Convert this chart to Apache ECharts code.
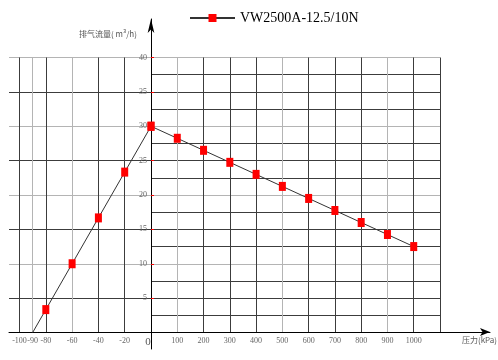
<!DOCTYPE html>
<html><head><meta charset="utf-8">
<script src="https://cdn.jsdelivr.net/npm/echarts@6/dist/echarts.min.js"></script>
<style>html,body{margin:0;padding:0;background:#fff}#c{width:498px;height:360px}</style>
</head><body><div id="c"></div>
<script>
const seriesName = 'VW2500A-12.5/10N';
const leftPressure = [-90, -80, -60, -40, -20, 0];
const leftFlow = [0, 3.33, 10, 16.67, 23.33, 30];
const rightPressure = [0, 100, 200, 300, 400, 500, 600, 700, 800, 900, 1000];
const rightFlow = [30, 28.25, 26.5, 24.75, 23, 21.25, 19.5, 17.75, 16, 14.25, 12.5];
const leftTickLabels = [-100, -90, -80, -60, -40, -20, 0];
const rightTickLabels = [100, 200, 300, 400, 500, 600, 700, 800, 900, 1000];
const yTickLabels = [5, 10, 15, 20, 25, 30, 35, 40];
// grid line sets (dark / light)
const leftXDark = [-100, -80, -40, -20];
const leftXLight = [-90, -60];
const rightXDark = [200, 300, 400, 600, 700, 800, 1000, 1100];
const rightXLight = [100, 500, 900];
const leftYDark = [5, 15, 25, 35];
const leftYLight = [10, 20, 30, 40];
const rightYDark = [2.5, 5, 7.5, 12.5, 15, 17.5, 22.5, 25, 27.5, 32.5, 35, 37.5];
const rightYLight = [10, 20, 30, 40];
const yName = '排气流量( m³/h)';
const xName = '压力(kPa)';

const DARK = '#3c3c3c', GRAY = '#b4b4b4';
const FONT = '"Liberation Serif",serif';
const lblStyle = {color: '#666', fontSize: 8, fontFamily: FONT, hideOverlap: false};
const noLine = {show: false, onZero: false};

function gridAxis(grid, pos, min, max, vals, color, extra) {
  return Object.assign({
    gridIndex: grid, type: 'value', position: pos, min: min, max: max,
    axisLine: noLine,
    axisTick: {show: false, customValues: vals},
    axisLabel: {show: false},
    splitLine: {show: true, lineStyle: {color: color, width: 1}}
  }, extra || {});
}

const chart = echarts.init(document.getElementById('c'), null, {renderer: 'canvas'});
chart.setOption({
  animation: false,
  backgroundColor: '#fff',
  title: [
    {text: yName, left: 79, top: 30, padding: 0, textStyle: {fontSize: 8, fontWeight: 'normal', color: '#555', fontFamily: '"Noto Sans CJK SC"'}},
    {text: xName, right: 1, top: 336, padding: 0, textStyle: {fontSize: 8, fontWeight: 'normal', color: '#555', fontFamily: '"Noto Sans CJK SC"'}}
  ],
  legend: {
    data: [seriesName], left: 189, top: 11, padding: 0, itemWidth: 45, itemHeight: 10, itemGap: 5,
    textStyle: {fontSize: 14, color: '#000', fontFamily: FONT}
  },
  grid: [
    {left: 9, top: 57.5, width: 142, height: 275},
    {left: 151, top: 57.5, width: 289, height: 275},
    {left: 9, top: 19, width: 481, height: 330}
  ],
  xAxis: [
    gridAxis(0, 'bottom', -108, 0, leftXDark, DARK, {
      axisLabel: {show: true, customValues: leftTickLabels, margin: 4, ...lblStyle,
        formatter: v => v === 0 ? '{z|0}' : String(v),
        rich: {z: {fontSize: 11, color: '#555', fontFamily: FONT, padding: [0, 6, 0, 0]}}}
    }),
    gridAxis(0, 'top', -108, 0, leftXLight, GRAY),
    gridAxis(1, 'bottom', 0, 1100, rightXDark, DARK, {
      axisLabel: {show: true, customValues: rightTickLabels, margin: 4, ...lblStyle, formatter: v => String(v)}
    }),
    gridAxis(1, 'top', 0, 1100, rightXLight, GRAY),
    {gridIndex: 2, type: 'value', min: -142, max: 339,
     axisLine: {show: true, onZero: true, symbol: ['none', 'arrow'], symbolSize: [6, 10], lineStyle: {color: '#000', width: 1}},
     axisTick: {show: false}, axisLabel: {show: false}, splitLine: {show: false}}
  ],
  yAxis: [
    gridAxis(0, 'right', 0, 40, leftYDark, DARK, {
      axisTick: {show: true, customValues: leftYDark, length: 3, inside: false, lineStyle: {color: '#f00'}}
    }),
    gridAxis(0, 'left', 0, 40, leftYLight, GRAY),
    gridAxis(1, 'left', 0, 40, rightYLight, GRAY, {
      axisTick: {show: true, customValues: rightYLight, length: 3, inside: true, lineStyle: {color: '#f00'}},
      axisLabel: {show: true, customValues: yTickLabels, margin: 4, ...lblStyle}
    }),
    gridAxis(1, 'right', 0, 40, rightYDark, DARK),
    {gridIndex: 2, type: 'value', min: -17, max: 313,
     axisLine: {show: true, onZero: true, symbol: ['none', 'arrow'], symbolSize: [5, 14], lineStyle: {color: '#000', width: 1}},
     axisTick: {show: false}, axisLabel: {show: false}, splitLine: {show: false}}
  ],
  series: [
    {name: seriesName, type: 'line', xAxisIndex: 2, yAxisIndex: 2,
     data: rightPressure.map((p, i) => [p, rightFlow[i]]),
     symbol: 'rect', symbolSize: [7, 9], itemStyle: {color: '#f00'},
     lineStyle: {color: '#333', width: 1}, z: 5},
    {name: 'left', type: 'line', xAxisIndex: 0, yAxisIndex: 0,
     data: leftPressure.map((p, i) => i === 0 ? {value: [p, leftFlow[i]], symbol: 'none'} : [p, leftFlow[i]]),
     symbol: 'rect', symbolSize: [7, 9], itemStyle: {color: '#f00'},
     lineStyle: {color: '#333', width: 1}, z: 5}
  ]
});
</script></body></html>
